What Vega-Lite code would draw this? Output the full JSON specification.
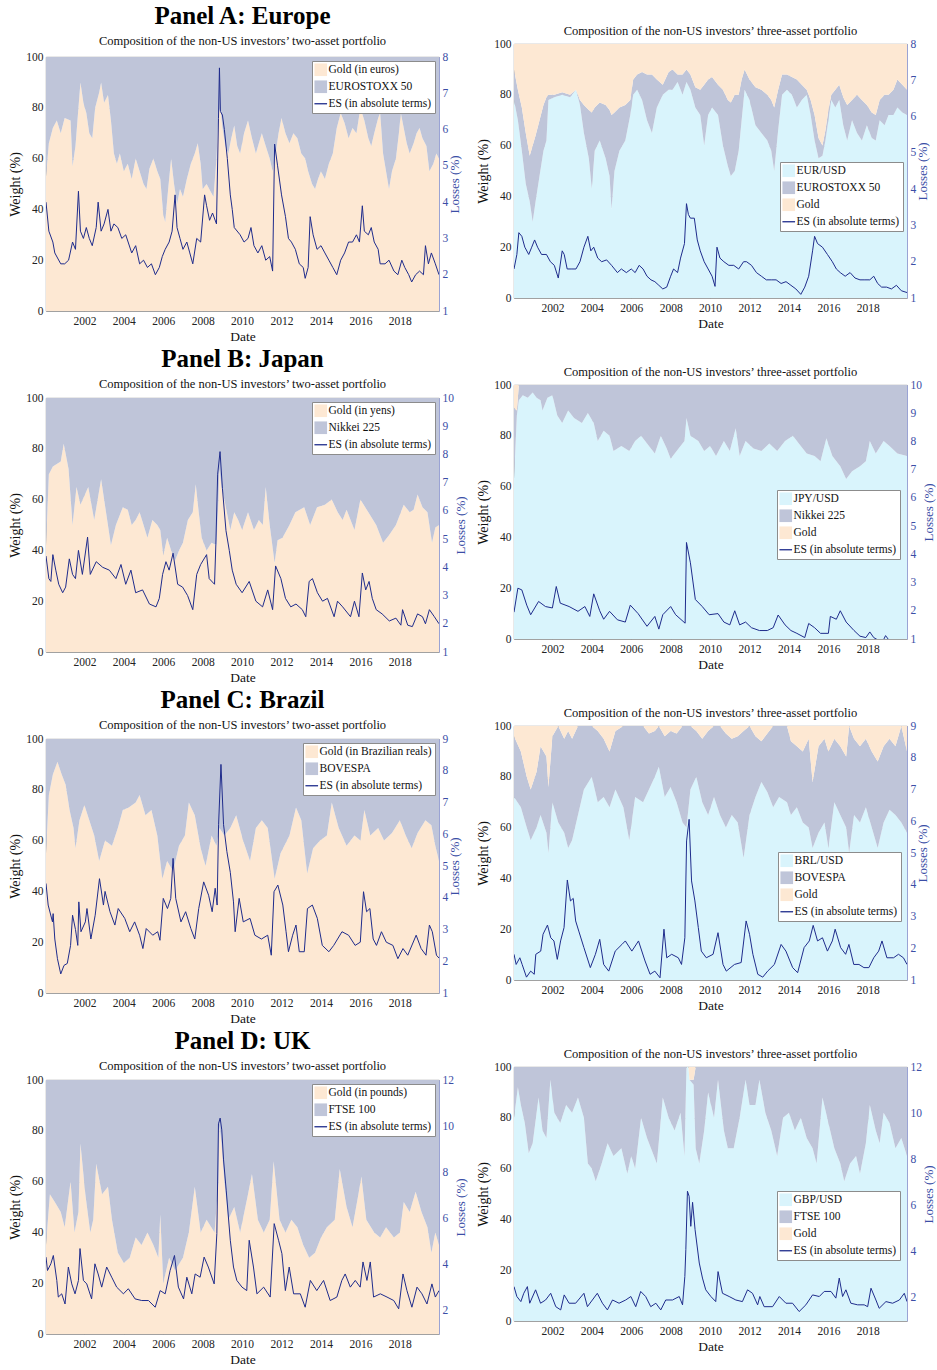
{
  "$schema": "https://vega.github.io/schema/vega-lite/v6.json",
  "background": "white",
  "padding": {"left": 8, "top": 4, "right": 0, "bottom": 2},
  "config": {
    "font": "Liberation Serif",
    "view": {"stroke": "#7a7a7a", "strokeWidth": 0.8},
    "title": {"font": "Liberation Serif", "fontSize": 25, "fontWeight": "bold", "color": "#000000", "subtitleFont": "Liberation Serif", "subtitleFontSize": 12.5, "subtitleColor": "#111111", "subtitlePadding": 6, "anchor": "middle", "offset": 2},
    "axis": {"labelFont": "Liberation Serif", "titleFont": "Liberation Serif", "labelFontSize": 11.5, "titleFontSize": 14, "titleFontWeight": "normal", "labelColor": "#222222", "titleColor": "#111111", "ticks": false, "domain": false, "grid": false, "gridColor": "#8c8c8c", "gridOpacity": 0.35, "gridWidth": 0.8, "labelPadding": 3, "titlePadding": 3, "labelFlush": false, "labelOverlap": false},
    "axisBottom": {"grid": true, "titlePadding": 3, "labelPadding": 4, "titleFontSize": 13.5},
    "axisLeft": {"grid": true},
    "axisRight": {"labelColor": "#3b4ea6", "titleColor": "#3b4ea6", "domain": true, "domainColor": "#9aa3d4", "grid": false, "titleAngle": 270, "titleBaseline": "top", "titlePadding": 1, "titleFontSize": 13},
    "legend": {"labelFont": "Liberation Serif", "labelFontSize": 11.5, "labelColor": "#111111", "fillColor": "#ffffff", "strokeColor": "#8c8c8c", "padding": 3, "symbolSize": 160, "symbolType": "square", "rowPadding": 3, "labelOffset": 2, "offset": 4}
  },
  "datasets": {
    "wA1": [
      {"d":"2000-01-21","a":53,"b":47},{"d":"2000-03-14","a":66,"b":34},{"d":"2000-05-27","a":72,"b":28},{"d":"2000-08-08","a":75,"b":25},{"d":"2000-10-20","a":70,"b":30},{"d":"2001-01-01","a":76,"b":24},{"d":"2001-04-20","a":75,"b":25},{"d":"2001-05-27","a":57,"b":43},{"d":"2001-07-20","a":65,"b":35},{"d":"2001-09-13","a":80,"b":20},{"d":"2001-10-20","a":90,"b":10},{"d":"2001-12-14","a":82,"b":18},
      {"d":"2002-02-06","a":78,"b":22},{"d":"2002-04-02","a":70,"b":30},{"d":"2002-05-27","a":68,"b":32},{"d":"2002-07-20","a":80,"b":20},{"d":"2002-10-02","a":86,"b":14},{"d":"2002-11-07","a":90,"b":10},{"d":"2003-01-01","a":82,"b":18},{"d":"2003-03-14","a":85,"b":15},{"d":"2003-05-08","a":75,"b":25},{"d":"2003-07-02","a":62,"b":38},{"d":"2003-08-26","a":58,"b":42},{"d":"2003-10-20","a":62,"b":38},
      {"d":"2004-01-01","a":55,"b":45},{"d":"2004-03-14","a":58,"b":42},{"d":"2004-05-27","a":52,"b":48},{"d":"2004-08-08","a":60,"b":40},{"d":"2004-10-20","a":55,"b":45},{"d":"2005-01-01","a":50,"b":50},{"d":"2005-02-24","a":48,"b":52},{"d":"2005-04-20","a":56,"b":44},{"d":"2005-07-02","a":60,"b":40},{"d":"2005-09-13","a":55,"b":45},{"d":"2005-11-07","a":52,"b":48},
      {"d":"2006-01-01","a":38,"b":62},{"d":"2006-02-06","a":35,"b":65},{"d":"2006-04-02","a":48,"b":52},{"d":"2006-05-27","a":60,"b":40},{"d":"2006-07-20","a":50,"b":50},{"d":"2006-09-13","a":42,"b":58},{"d":"2006-11-07","a":48,"b":52},{"d":"2007-01-01","a":45,"b":55},{"d":"2007-03-14","a":52,"b":48},{"d":"2007-05-27","a":58,"b":42},{"d":"2007-08-08","a":62,"b":38},{"d":"2007-10-02","a":66,"b":34},{"d":"2007-11-25","a":58,"b":42},
      {"d":"2008-01-01","a":48,"b":52},{"d":"2008-03-14","a":50,"b":50},{"d":"2008-05-27","a":47,"b":53},{"d":"2008-07-20","a":45,"b":55},{"d":"2008-09-13","a":60,"b":40},{"d":"2008-10-20","a":78,"b":22},{"d":"2008-11-25","a":80,"b":20},{"d":"2009-01-01","a":72,"b":28},{"d":"2009-02-24","a":65,"b":35},{"d":"2009-04-20","a":62,"b":38},{"d":"2009-06-14","a":68,"b":32},{"d":"2009-08-08","a":73,"b":27},{"d":"2009-10-02","a":65,"b":35},{"d":"2009-11-25","a":62,"b":38},
      {"d":"2010-02-06","a":70,"b":30},{"d":"2010-04-20","a":75,"b":25},{"d":"2010-07-02","a":68,"b":32},{"d":"2010-09-13","a":62,"b":38},{"d":"2010-11-07","a":66,"b":34},{"d":"2011-01-01","a":70,"b":30},{"d":"2011-03-14","a":65,"b":35},{"d":"2011-05-27","a":60,"b":40},{"d":"2011-07-20","a":55,"b":45},{"d":"2011-09-13","a":62,"b":38},{"d":"2011-11-07","a":70,"b":30},
      {"d":"2012-01-01","a":76,"b":24},{"d":"2012-03-14","a":70,"b":30},{"d":"2012-05-27","a":66,"b":34},{"d":"2012-08-08","a":70,"b":30},{"d":"2012-10-20","a":68,"b":32},{"d":"2013-01-01","a":62,"b":38},{"d":"2013-03-14","a":60,"b":40},{"d":"2013-05-08","a":55,"b":45},{"d":"2013-07-20","a":50,"b":50},{"d":"2013-09-13","a":48,"b":52},{"d":"2013-11-07","a":52,"b":48},
      {"d":"2014-01-01","a":55,"b":45},{"d":"2014-03-14","a":52,"b":48},{"d":"2014-05-27","a":58,"b":42},{"d":"2014-08-08","a":62,"b":38},{"d":"2014-10-20","a":72,"b":28},{"d":"2015-01-01","a":78,"b":22},{"d":"2015-03-14","a":74,"b":26},{"d":"2015-05-27","a":68,"b":32},{"d":"2015-08-08","a":72,"b":28},{"d":"2015-10-20","a":70,"b":30},
      {"d":"2016-01-01","a":80,"b":20},{"d":"2016-03-14","a":75,"b":25},{"d":"2016-05-27","a":68,"b":32},{"d":"2016-07-20","a":65,"b":35},{"d":"2016-09-13","a":70,"b":30},{"d":"2016-11-25","a":76,"b":24},{"d":"2017-01-01","a":78,"b":22},{"d":"2017-02-24","a":62,"b":38},{"d":"2017-04-20","a":55,"b":45},{"d":"2017-06-14","a":48,"b":52},{"d":"2017-08-08","a":55,"b":45},{"d":"2017-10-20","a":60,"b":40},{"d":"2017-12-14","a":70,"b":30},
      {"d":"2018-01-19","a":78,"b":22},{"d":"2018-03-14","a":72,"b":28},{"d":"2018-05-08","a":66,"b":34},{"d":"2018-07-02","a":62,"b":38},{"d":"2018-09-13","a":66,"b":34},{"d":"2018-11-07","a":70,"b":30},{"d":"2019-01-01","a":72,"b":28},{"d":"2019-02-24","a":68,"b":32},{"d":"2019-05-08","a":65,"b":35},{"d":"2019-07-02","a":55,"b":45},{"d":"2019-09-13","a":58,"b":42},{"d":"2019-11-07","a":62,"b":38},{"d":"2019-12-27","a":60,"b":40}
    ],
    "eA1": [
      {"d":"2000-01-21","e":4.0},{"d":"2000-03-14","e":3.2},{"d":"2000-05-27","e":2.9},{"d":"2000-07-02","e":2.6},{"d":"2000-10-20","e":2.3},{"d":"2001-01-01","e":2.3},{"d":"2001-03-14","e":2.4},{"d":"2001-05-27","e":2.9},{"d":"2001-07-20","e":2.7},{"d":"2001-09-13","e":4.3},{"d":"2001-10-20","e":3.2},{"d":"2001-12-14","e":3.0},
      {"d":"2002-02-06","e":3.3},{"d":"2002-04-02","e":3.0},{"d":"2002-05-27","e":2.8},{"d":"2002-08-08","e":3.3},{"d":"2002-09-13","e":4.0},{"d":"2002-11-07","e":3.2},{"d":"2003-01-01","e":3.4},{"d":"2003-03-14","e":3.8},{"d":"2003-05-08","e":3.2},{"d":"2003-07-02","e":3.4},{"d":"2003-09-13","e":3.3},{"d":"2003-11-25","e":3.0},
      {"d":"2004-02-06","e":3.1},{"d":"2004-05-27","e":2.6},{"d":"2004-08-08","e":2.8},{"d":"2004-10-20","e":2.3},{"d":"2005-01-01","e":2.4},{"d":"2005-03-14","e":2.2},{"d":"2005-05-27","e":2.3},{"d":"2005-08-08","e":2.0},{"d":"2005-10-20","e":2.2},{"d":"2005-12-14","e":2.5},
      {"d":"2006-02-06","e":2.7},{"d":"2006-04-20","e":2.9},{"d":"2006-06-14","e":3.2},{"d":"2006-08-08","e":4.2},{"d":"2006-09-13","e":3.3},{"d":"2006-11-07","e":3.0},{"d":"2007-01-01","e":2.7},{"d":"2007-03-14","e":2.9},{"d":"2007-05-08","e":2.6},{"d":"2007-07-02","e":2.3},{"d":"2007-09-13","e":3.0},{"d":"2007-11-25","e":2.9},
      {"d":"2008-02-06","e":4.2},{"d":"2008-03-14","e":3.9},{"d":"2008-05-08","e":3.5},{"d":"2008-07-02","e":3.7},{"d":"2008-09-13","e":3.4},{"d":"2008-10-20","e":6.3},{"d":"2008-11-07","e":7.7},{"d":"2008-11-25","e":6.5},{"d":"2009-01-01","e":6.4},{"d":"2009-02-06","e":6.0},{"d":"2009-04-02","e":5.2},{"d":"2009-05-27","e":4.2},{"d":"2009-07-02","e":3.8},{"d":"2009-08-08","e":3.3},{"d":"2009-11-25","e":3.1},
      {"d":"2010-02-06","e":2.9},{"d":"2010-04-20","e":3.0},{"d":"2010-06-14","e":3.3},{"d":"2010-08-08","e":2.8},{"d":"2010-10-20","e":2.6},{"d":"2011-01-01","e":2.8},{"d":"2011-03-14","e":2.4},{"d":"2011-05-27","e":2.5},{"d":"2011-07-20","e":2.1},{"d":"2011-08-26","e":5.6},{"d":"2011-10-20","e":5.0},
      {"d":"2012-01-01","e":4.2},{"d":"2012-03-14","e":3.6},{"d":"2012-05-08","e":3.0},{"d":"2012-07-02","e":2.9},{"d":"2012-09-13","e":2.7},{"d":"2012-11-25","e":2.3},{"d":"2013-02-06","e":2.2},{"d":"2013-03-14","e":1.9},{"d":"2013-05-08","e":2.2},{"d":"2013-06-14","e":3.6},{"d":"2013-08-08","e":3.1},{"d":"2013-10-20","e":2.7},
      {"d":"2014-01-01","e":2.8},{"d":"2014-03-14","e":2.6},{"d":"2014-05-27","e":2.4},{"d":"2014-08-08","e":2.2},{"d":"2014-10-20","e":2.0},{"d":"2015-01-01","e":2.4},{"d":"2015-03-14","e":2.6},{"d":"2015-05-27","e":2.9},{"d":"2015-08-08","e":2.9},{"d":"2015-10-20","e":3.1},{"d":"2015-12-14","e":2.9},
      {"d":"2016-02-06","e":3.9},{"d":"2016-03-14","e":3.2},{"d":"2016-05-27","e":3.1},{"d":"2016-07-20","e":3.3},{"d":"2016-09-13","e":2.9},{"d":"2016-11-25","e":2.7},{"d":"2017-01-01","e":2.3},{"d":"2017-04-02","e":2.3},{"d":"2017-06-14","e":2.4},{"d":"2017-09-13","e":2.1},{"d":"2017-11-25","e":2.0},
      {"d":"2018-02-06","e":2.4},{"d":"2018-04-02","e":2.2},{"d":"2018-06-14","e":2.0},{"d":"2018-08-08","e":1.8},{"d":"2018-10-20","e":2.0},{"d":"2019-01-01","e":2.1},{"d":"2019-03-14","e":2.0},{"d":"2019-04-20","e":2.8},{"d":"2019-06-14","e":2.3},{"d":"2019-08-08","e":2.6},{"d":"2019-10-20","e":2.3},{"d":"2019-12-27","e":2.0}
    ],
    "wA2": [
      {"d":"2000-01-21","a":78,"b":12,"c":10},{"d":"2000-04-02","a":70,"b":12,"c":18},{"d":"2000-06-14","a":58,"b":17,"c":25},{"d":"2000-08-26","a":45,"b":20,"c":35},{"d":"2000-11-07","a":38,"b":18,"c":44},{"d":"2001-01-01","a":30,"b":30,"c":40},{"d":"2001-02-24","a":38,"b":26,"c":36},{"d":"2001-05-08","a":48,"b":22,"c":30},{"d":"2001-07-20","a":58,"b":18,"c":24},{"d":"2001-09-13","a":62,"b":17,"c":21},{"d":"2001-10-20","a":78,"b":2,"c":20},
      {"d":"2002-02-06","a":79,"b":1,"c":20},{"d":"2002-07-02","a":80,"b":1,"c":19},{"d":"2002-11-25","a":79,"b":1,"c":20},{"d":"2003-03-14","a":82,"b":0,"c":18},{"d":"2003-05-27","a":76,"b":2,"c":22},{"d":"2003-08-08","a":65,"b":11,"c":24},{"d":"2003-11-07","a":55,"b":19,"c":26},
      {"d":"2004-01-01","a":43,"b":30,"c":27},{"d":"2004-02-24","a":58,"b":17,"c":25},{"d":"2004-05-27","a":62,"b":15,"c":23},{"d":"2004-09-13","a":55,"b":21,"c":24},{"d":"2004-11-25","a":48,"b":26,"c":26},{"d":"2005-01-01","a":35,"b":37,"c":28},{"d":"2005-02-24","a":50,"b":23,"c":27},{"d":"2005-05-27","a":58,"b":17,"c":25},{"d":"2005-09-13","a":62,"b":14,"c":24},{"d":"2005-12-14","a":72,"b":6,"c":22},
      {"d":"2006-02-06","a":80,"b":6,"c":14},{"d":"2006-04-20","a":82,"b":6,"c":12},{"d":"2006-07-20","a":78,"b":11,"c":11},{"d":"2006-10-20","a":70,"b":18,"c":12},{"d":"2007-01-19","a":65,"b":23,"c":12},{"d":"2007-04-20","a":75,"b":11,"c":14},{"d":"2007-08-08","a":80,"b":4,"c":16},{"d":"2007-11-25","a":82,"b":7,"c":11},
      {"d":"2008-02-06","a":82,"b":8,"c":10},{"d":"2008-05-08","a":85,"b":3,"c":12},{"d":"2008-08-08","a":80,"b":8,"c":12},{"d":"2008-10-20","a":85,"b":5,"c":10},{"d":"2009-01-01","a":82,"b":6,"c":12},{"d":"2009-04-02","a":75,"b":8,"c":17},{"d":"2009-07-02","a":72,"b":10,"c":18},{"d":"2009-09-13","a":60,"b":24,"c":16},{"d":"2009-11-25","a":72,"b":14,"c":14},
      {"d":"2010-02-06","a":75,"b":12,"c":13},{"d":"2010-05-27","a":72,"b":12,"c":16},{"d":"2010-08-26","a":60,"b":22,"c":18},{"d":"2010-11-25","a":52,"b":26,"c":22},{"d":"2011-01-19","a":48,"b":29,"c":23},{"d":"2011-04-02","a":50,"b":30,"c":20},{"d":"2011-06-14","a":58,"b":22,"c":20},{"d":"2011-08-08","a":70,"b":16,"c":14},{"d":"2011-10-02","a":82,"b":8,"c":10},
      {"d":"2012-01-01","a":78,"b":8,"c":14},{"d":"2012-04-20","a":68,"b":15,"c":17},{"d":"2012-08-08","a":65,"b":17,"c":18},{"d":"2012-11-25","a":62,"b":18,"c":20},{"d":"2013-02-06","a":58,"b":20,"c":22},{"d":"2013-04-02","a":50,"b":25,"c":25},{"d":"2013-06-14","a":66,"b":16,"c":18},{"d":"2013-08-26","a":80,"b":8,"c":12},{"d":"2013-11-25","a":82,"b":6,"c":12},
      {"d":"2014-02-24","a":80,"b":7,"c":13},{"d":"2014-05-27","a":75,"b":11,"c":14},{"d":"2014-08-26","a":78,"b":6,"c":16},{"d":"2014-11-25","a":80,"b":2,"c":18},{"d":"2015-02-06","a":72,"b":6,"c":22},{"d":"2015-04-20","a":62,"b":10,"c":28},{"d":"2015-07-02","a":55,"b":8,"c":37},{"d":"2015-09-13","a":56,"b":4,"c":40},{"d":"2015-11-07","a":62,"b":4,"c":34},
      {"d":"2016-01-01","a":70,"b":4,"c":26},{"d":"2016-02-24","a":78,"b":2,"c":20},{"d":"2016-05-08","a":75,"b":7,"c":18},{"d":"2016-07-20","a":78,"b":6,"c":16},{"d":"2016-10-02","a":68,"b":11,"c":21},{"d":"2016-12-14","a":62,"b":14,"c":24},{"d":"2017-03-14","a":70,"b":8,"c":22},{"d":"2017-06-14","a":65,"b":15,"c":20},{"d":"2017-09-13","a":62,"b":16,"c":22},{"d":"2017-12-14","a":68,"b":8,"c":24},
      {"d":"2018-03-14","a":63,"b":10,"c":27},{"d":"2018-05-27","a":62,"b":10,"c":28},{"d":"2018-08-08","a":70,"b":8,"c":22},{"d":"2018-11-07","a":68,"b":12,"c":20},{"d":"2019-01-19","a":72,"b":8,"c":20},{"d":"2019-04-20","a":72,"b":10,"c":18},{"d":"2019-07-02","a":75,"b":11,"c":14},{"d":"2019-10-02","a":73,"b":11,"c":16},{"d":"2019-12-27","a":72,"b":10,"c":18}
    ],
    "eA2": [
      {"d":"2000-01-21","e":1.8},{"d":"2000-03-14","e":2.2},{"d":"2000-04-20","e":2.8},{"d":"2000-06-14","e":2.7},{"d":"2000-08-08","e":2.4},{"d":"2000-10-20","e":2.2},{"d":"2000-12-14","e":2.4},{"d":"2001-02-06","e":2.6},{"d":"2001-04-02","e":2.4},{"d":"2001-06-14","e":2.2},{"d":"2001-09-13","e":2.2},{"d":"2001-11-25","e":2.0},
      {"d":"2002-02-06","e":1.9},{"d":"2002-04-20","e":1.55},{"d":"2002-07-02","e":2.3},{"d":"2002-08-08","e":2.2},{"d":"2002-10-02","e":1.8},{"d":"2002-12-14","e":1.8},{"d":"2003-03-14","e":1.8},{"d":"2003-05-27","e":2.0},{"d":"2003-08-08","e":2.4},{"d":"2003-10-20","e":2.7},{"d":"2003-12-14","e":2.3},
      {"d":"2004-02-06","e":2.4},{"d":"2004-04-20","e":2.1},{"d":"2004-07-02","e":2.0},{"d":"2004-10-02","e":2.05},{"d":"2005-01-01","e":1.9},{"d":"2005-04-20","e":1.7},{"d":"2005-07-02","e":1.8},{"d":"2005-10-02","e":1.7},{"d":"2006-01-01","e":1.8},{"d":"2006-03-14","e":1.7},{"d":"2006-05-27","e":1.9},{"d":"2006-08-08","e":1.8},{"d":"2006-10-20","e":1.6},
      {"d":"2007-01-01","e":1.5},{"d":"2007-03-14","e":1.45},{"d":"2007-05-27","e":1.35},{"d":"2007-08-08","e":1.25},{"d":"2007-10-20","e":1.3},{"d":"2008-01-01","e":1.6},{"d":"2008-02-24","e":1.8},{"d":"2008-05-08","e":1.7},{"d":"2008-07-02","e":2.1},{"d":"2008-09-13","e":2.5},{"d":"2008-10-20","e":3.6},{"d":"2008-11-25","e":3.3},{"d":"2009-01-01","e":3.2},{"d":"2009-03-14","e":3.2},{"d":"2009-05-08","e":2.6},{"d":"2009-07-02","e":2.3},{"d":"2009-09-13","e":2.0},{"d":"2009-11-25","e":1.8},
      {"d":"2010-02-06","e":1.6},{"d":"2010-04-02","e":1.32},{"d":"2010-05-08","e":2.4},{"d":"2010-07-02","e":2.1},{"d":"2010-09-13","e":2.0},{"d":"2010-12-14","e":1.9},{"d":"2011-03-14","e":1.9},{"d":"2011-06-14","e":1.8},{"d":"2011-09-13","e":2.0},{"d":"2011-11-07","e":2.0},
      {"d":"2012-02-06","e":1.9},{"d":"2012-05-08","e":1.7},{"d":"2012-08-08","e":1.6},{"d":"2012-11-07","e":1.5},{"d":"2013-02-06","e":1.5},{"d":"2013-05-08","e":1.5},{"d":"2013-08-08","e":1.4},{"d":"2013-11-07","e":1.45},{"d":"2014-02-06","e":1.35},{"d":"2014-05-08","e":1.25},{"d":"2014-08-08","e":1.1},{"d":"2014-10-20","e":1.3},
      {"d":"2015-01-01","e":1.6},{"d":"2015-03-14","e":2.3},{"d":"2015-04-20","e":2.7},{"d":"2015-06-14","e":2.5},{"d":"2015-09-13","e":2.4},{"d":"2015-12-14","e":2.2},{"d":"2016-03-14","e":2.0},{"d":"2016-05-27","e":1.8},{"d":"2016-08-08","e":1.7},{"d":"2016-11-07","e":1.6},
      {"d":"2017-02-06","e":1.7},{"d":"2017-05-08","e":1.55},{"d":"2017-08-08","e":1.5},{"d":"2017-11-07","e":1.5},{"d":"2018-02-06","e":1.5},{"d":"2018-04-20","e":1.6},{"d":"2018-07-02","e":1.4},{"d":"2018-09-13","e":1.3},{"d":"2018-12-14","e":1.3},{"d":"2019-03-14","e":1.25},{"d":"2019-06-14","e":1.35},{"d":"2019-09-13","e":1.2},{"d":"2019-12-27","e":1.15}
    ],
    "wB1": [
      {"d":"2000-01-21","a":42,"b":58},{"d":"2000-03-14","a":70,"b":30},{"d":"2000-05-27","a":73,"b":27},{"d":"2000-08-08","a":74,"b":26},{"d":"2000-10-20","a":75,"b":25},{"d":"2000-12-14","a":82,"b":18},{"d":"2001-03-14","a":72,"b":28},{"d":"2001-05-27","a":50,"b":50},{"d":"2001-08-08","a":65,"b":35},{"d":"2001-10-20","a":58,"b":42},
      {"d":"2002-03-14","a":65,"b":35},{"d":"2002-07-02","a":52,"b":48},{"d":"2002-11-07","a":68,"b":32},{"d":"2003-02-06","a":55,"b":45},{"d":"2003-05-08","a":42,"b":58},{"d":"2003-08-08","a":50,"b":50},{"d":"2003-12-14","a":57,"b":43},
      {"d":"2004-03-14","a":56,"b":44},{"d":"2004-05-27","a":50,"b":50},{"d":"2004-08-08","a":52,"b":48},{"d":"2004-10-20","a":55,"b":45},{"d":"2005-01-01","a":50,"b":50},{"d":"2005-03-14","a":45,"b":55},{"d":"2005-06-14","a":52,"b":48},{"d":"2005-09-13","a":50,"b":50},{"d":"2005-11-07","a":48,"b":52},
      {"d":"2006-01-01","a":38,"b":62},{"d":"2006-03-14","a":45,"b":55},{"d":"2006-05-27","a":40,"b":60},{"d":"2006-08-08","a":36,"b":64},{"d":"2006-10-20","a":40,"b":60},{"d":"2007-01-01","a":43,"b":57},{"d":"2007-04-02","a":52,"b":48},{"d":"2007-07-02","a":55,"b":45},{"d":"2007-08-26","a":66,"b":34},{"d":"2007-10-20","a":55,"b":45},{"d":"2007-12-14","a":45,"b":55},
      {"d":"2008-03-14","a":40,"b":60},{"d":"2008-06-14","a":43,"b":57},{"d":"2008-09-13","a":42,"b":58},{"d":"2008-10-20","a":60,"b":40},{"d":"2008-11-07","a":72,"b":28},{"d":"2008-12-14","a":65,"b":35},{"d":"2009-02-06","a":60,"b":40},{"d":"2009-05-27","a":48,"b":52},{"d":"2009-08-08","a":55,"b":45},{"d":"2009-10-20","a":52,"b":48},
      {"d":"2010-01-01","a":48,"b":52},{"d":"2010-04-20","a":55,"b":45},{"d":"2010-08-08","a":48,"b":52},{"d":"2010-11-07","a":52,"b":48},{"d":"2011-01-19","a":50,"b":50},{"d":"2011-03-14","a":65,"b":35},{"d":"2011-05-27","a":50,"b":50},{"d":"2011-08-26","a":35,"b":65},{"d":"2011-10-20","a":44,"b":56},
      {"d":"2012-01-19","a":45,"b":55},{"d":"2012-05-27","a":50,"b":50},{"d":"2012-09-13","a":55,"b":45},{"d":"2013-02-24","a":57,"b":43},{"d":"2013-06-14","a":50,"b":50},{"d":"2013-10-20","a":57,"b":43},{"d":"2014-03-14","a":58,"b":42},{"d":"2014-07-20","a":60,"b":40},{"d":"2014-11-07","a":55,"b":45},
      {"d":"2015-02-06","a":52,"b":48},{"d":"2015-04-20","a":56,"b":44},{"d":"2015-09-13","a":48,"b":52},{"d":"2016-01-01","a":60,"b":40},{"d":"2016-05-27","a":55,"b":45},{"d":"2016-10-20","a":50,"b":50},{"d":"2017-02-24","a":43,"b":57},{"d":"2017-06-14","a":46,"b":54},{"d":"2017-10-20","a":50,"b":50},
      {"d":"2018-03-14","a":58,"b":42},{"d":"2018-07-02","a":55,"b":45},{"d":"2018-09-13","a":56,"b":44},{"d":"2018-11-25","a":62,"b":38},{"d":"2019-02-24","a":57,"b":43},{"d":"2019-05-27","a":55,"b":45},{"d":"2019-08-20","a":43,"b":57},{"d":"2019-10-20","a":49,"b":51},{"d":"2019-12-27","a":50,"b":50}
    ],
    "eB1": [
      {"d":"2000-01-21","e":4.4},{"d":"2000-03-14","e":3.6},{"d":"2000-04-20","e":3.5},{"d":"2000-05-27","e":4.45},{"d":"2000-07-20","e":3.9},{"d":"2000-09-13","e":3.4},{"d":"2000-11-25","e":3.1},{"d":"2001-01-19","e":3.3},{"d":"2001-03-28","e":4.3},{"d":"2001-05-27","e":3.75},{"d":"2001-07-20","e":3.6},{"d":"2001-09-13","e":4.6},{"d":"2001-11-25","e":3.75},
      {"d":"2002-03-01","e":5.07},{"d":"2002-04-20","e":3.75},{"d":"2002-08-08","e":4.2},{"d":"2002-12-07","e":4.0},{"d":"2003-04-08","e":3.9},{"d":"2003-08-08","e":3.6},{"d":"2003-11-10","e":4.1},
      {"d":"2004-02-06","e":3.4},{"d":"2004-05-12","e":3.9},{"d":"2004-08-08","e":3.1},{"d":"2004-12-14","e":3.2},{"d":"2005-04-20","e":2.7},{"d":"2005-08-20","e":2.6},{"d":"2005-10-20","e":2.9},{"d":"2005-12-20","e":3.75},
      {"d":"2006-02-20","e":4.2},{"d":"2006-04-20","e":3.9},{"d":"2006-07-02","e":4.5},{"d":"2006-09-25","e":3.4},{"d":"2006-12-25","e":3.3},{"d":"2007-03-28","e":3.0},{"d":"2007-07-02","e":2.5},{"d":"2007-09-13","e":3.75},{"d":"2007-11-25","e":4.1},
      {"d":"2008-03-14","e":4.45},{"d":"2008-05-01","e":3.6},{"d":"2008-08-08","e":3.4},{"d":"2008-09-01","e":4.8},{"d":"2008-10-05","e":7.3},{"d":"2008-11-18","e":8.1},{"d":"2009-01-01","e":6.8},{"d":"2009-03-08","e":5.3},{"d":"2009-05-08","e":4.6},{"d":"2009-07-02","e":3.9},{"d":"2009-09-13","e":3.4},
      {"d":"2010-01-01","e":3.1},{"d":"2010-05-12","e":3.5},{"d":"2010-09-13","e":2.8},{"d":"2011-01-15","e":2.6},{"d":"2011-04-20","e":3.2},{"d":"2011-07-20","e":2.5},{"d":"2011-09-13","e":4.05},{"d":"2011-12-20","e":3.6},
      {"d":"2012-03-14","e":2.9},{"d":"2012-06-20","e":2.6},{"d":"2012-09-25","e":2.7},{"d":"2013-01-20","e":2.5},{"d":"2013-03-25","e":2.25},{"d":"2013-05-27","e":3.5},{"d":"2013-07-27","e":3.6},{"d":"2013-10-27","e":3.1},
      {"d":"2014-01-30","e":2.8},{"d":"2014-05-01","e":2.9},{"d":"2014-09-01","e":2.25},{"d":"2014-11-03","e":2.8},{"d":"2015-02-06","e":2.6},{"d":"2015-07-02","e":2.25},{"d":"2015-09-13","e":2.8},{"d":"2015-12-05","e":2.25},
      {"d":"2016-02-06","e":3.8},{"d":"2016-04-08","e":3.2},{"d":"2016-06-10","e":3.5},{"d":"2016-08-08","e":2.9},{"d":"2016-10-20","e":2.5},{"d":"2017-02-06","e":2.35},{"d":"2017-06-20","e":2.1},{"d":"2017-10-20","e":2.2},
      {"d":"2018-01-20","e":1.95},{"d":"2018-02-20","e":2.5},{"d":"2018-05-27","e":1.95},{"d":"2018-08-20","e":1.9},{"d":"2018-11-25","e":2.35},{"d":"2019-02-24","e":2.25},{"d":"2019-04-20","e":2.0},{"d":"2019-07-02","e":2.5},{"d":"2019-10-02","e":2.25},{"d":"2019-12-27","e":2.0}
    ],
    "wB2": [
      {"d":"2000-01-21","a":63,"b":28,"c":9},{"d":"2000-03-14","a":88,"b":2,"c":10},{"d":"2000-04-20","a":94,"b":6,"c":0},{"d":"2000-07-02","a":96,"b":4,"c":0},{"d":"2000-10-02","a":95,"b":5,"c":0},{"d":"2001-01-01","a":97,"b":3,"c":0},{"d":"2001-03-14","a":95,"b":5,"c":0},{"d":"2001-05-27","a":94,"b":6,"c":0},{"d":"2001-07-02","a":90,"b":10,"c":0},{"d":"2001-10-02","a":95,"b":5,"c":0},
      {"d":"2002-01-01","a":96,"b":4,"c":0},{"d":"2002-04-02","a":88,"b":12,"c":0},{"d":"2002-07-02","a":85,"b":15,"c":0},{"d":"2002-10-20","a":90,"b":10,"c":0},{"d":"2003-02-06","a":87,"b":13,"c":0},{"d":"2003-07-02","a":85,"b":15,"c":0},{"d":"2003-10-20","a":89,"b":11,"c":0},
      {"d":"2004-02-06","a":85,"b":15,"c":0},{"d":"2004-04-20","a":78,"b":22,"c":0},{"d":"2004-08-08","a":82,"b":18,"c":0},{"d":"2004-11-25","a":80,"b":20,"c":0},{"d":"2005-02-06","a":74,"b":26,"c":0},{"d":"2005-07-02","a":76,"b":24,"c":0},{"d":"2005-11-25","a":74,"b":26,"c":0},
      {"d":"2006-03-14","a":78,"b":22,"c":0},{"d":"2006-07-02","a":80,"b":20,"c":0},{"d":"2006-11-25","a":76,"b":24,"c":0},{"d":"2007-03-14","a":73,"b":27,"c":0},{"d":"2007-07-02","a":80,"b":20,"c":0},{"d":"2007-10-20","a":75,"b":25,"c":0},
      {"d":"2008-01-01","a":71,"b":29,"c":0},{"d":"2008-05-27","a":75,"b":25,"c":0},{"d":"2008-09-13","a":78,"b":22,"c":0},{"d":"2008-10-20","a":87,"b":13,"c":0},{"d":"2009-01-01","a":80,"b":20,"c":0},{"d":"2009-05-27","a":78,"b":22,"c":0},{"d":"2009-09-13","a":74,"b":26,"c":0},
      {"d":"2010-01-01","a":76,"b":24,"c":0},{"d":"2010-04-20","a":72,"b":28,"c":0},{"d":"2010-09-13","a":78,"b":22,"c":0},{"d":"2011-01-01","a":74,"b":26,"c":0},{"d":"2011-04-20","a":83,"b":17,"c":0},{"d":"2011-07-02","a":72,"b":28,"c":0},{"d":"2011-10-20","a":78,"b":22,"c":0},
      {"d":"2012-03-14","a":75,"b":25,"c":0},{"d":"2012-08-08","a":74,"b":26,"c":0},{"d":"2013-01-01","a":77,"b":23,"c":0},{"d":"2013-05-27","a":74,"b":26,"c":0},{"d":"2013-10-20","a":78,"b":22,"c":0},{"d":"2014-03-14","a":80,"b":20,"c":0},{"d":"2014-07-02","a":77,"b":23,"c":0},{"d":"2014-11-25","a":73,"b":27,"c":0},
      {"d":"2015-04-20","a":72,"b":28,"c":0},{"d":"2015-08-08","a":70,"b":30,"c":0},{"d":"2015-11-25","a":79,"b":21,"c":0},{"d":"2016-03-14","a":72,"b":28,"c":0},{"d":"2016-08-08","a":68,"b":32,"c":0},{"d":"2016-11-25","a":63,"b":37,"c":0},{"d":"2017-03-14","a":66,"b":34,"c":0},{"d":"2017-08-08","a":68,"b":32,"c":0},{"d":"2017-11-25","a":70,"b":30,"c":0},
      {"d":"2018-02-06","a":78,"b":22,"c":0},{"d":"2018-05-27","a":73,"b":27,"c":0},{"d":"2018-10-20","a":78,"b":22,"c":0},{"d":"2019-02-06","a":76,"b":24,"c":0},{"d":"2019-07-02","a":73,"b":27,"c":0},{"d":"2019-12-27","a":72,"b":28,"c":0}
    ],
    "eB2": [
      {"d":"2000-01-21","e":1.95},{"d":"2000-04-02","e":2.8},{"d":"2000-06-14","e":2.74},{"d":"2000-09-13","e":2.2},{"d":"2000-11-25","e":1.86},{"d":"2001-04-20","e":2.33},{"d":"2001-08-26","e":2.15},{"d":"2002-01-01","e":2.1},{"d":"2002-03-14","e":2.86},{"d":"2002-05-27","e":2.27},{"d":"2002-11-07","e":2.15},
      {"d":"2003-04-20","e":1.98},{"d":"2003-08-26","e":2.15},{"d":"2003-11-25","e":1.8},{"d":"2004-02-06","e":2.6},{"d":"2004-05-27","e":2.0},{"d":"2004-08-08","e":1.7},{"d":"2004-11-25","e":1.98},{"d":"2005-04-20","e":1.68},{"d":"2005-09-13","e":1.6},{"d":"2005-12-14","e":2.2},
      {"d":"2006-05-08","e":1.9},{"d":"2006-10-20","e":1.45},{"d":"2007-03-14","e":1.8},{"d":"2007-05-27","e":1.35},{"d":"2007-08-08","e":1.86},{"d":"2008-01-01","e":2.15},{"d":"2008-04-02","e":1.86},{"d":"2008-09-25","e":1.56},{"d":"2008-10-20","e":4.42},{"d":"2009-01-01","e":3.7},{"d":"2009-04-02","e":2.4},{"d":"2009-08-08","e":2.15},{"d":"2009-12-14","e":1.86},
      {"d":"2010-05-27","e":1.9},{"d":"2010-09-13","e":1.6},{"d":"2011-01-01","e":1.5},{"d":"2011-04-02","e":2.0},{"d":"2011-07-02","e":1.5},{"d":"2011-10-20","e":1.6},{"d":"2012-02-06","e":1.4},{"d":"2012-07-02","e":1.3},{"d":"2012-11-25","e":1.3},
      {"d":"2013-03-14","e":1.4},{"d":"2013-06-14","e":1.85},{"d":"2013-10-20","e":1.5},{"d":"2014-02-06","e":1.3},{"d":"2014-05-27","e":1.2},{"d":"2014-10-20","e":1.05},{"d":"2015-01-01","e":1.55},{"d":"2015-04-20","e":1.4},{"d":"2015-08-08","e":1.2},
      {"d":"2016-01-01","e":1.2},{"d":"2016-02-06","e":1.8},{"d":"2016-05-27","e":1.7},{"d":"2016-08-08","e":2.0},{"d":"2016-11-25","e":1.6},{"d":"2017-04-20","e":1.3},{"d":"2017-08-08","e":1.1},{"d":"2017-11-25","e":1.05},
      {"d":"2018-02-06","e":1.25},{"d":"2018-04-20","e":1.05},{"d":"2018-07-02","e":0.97},{"d":"2018-10-20","e":0.98},{"d":"2018-11-25","e":1.12},{"d":"2019-01-19","e":0.98},{"d":"2019-03-14","e":0.9},{"d":"2019-08-08","e":0.85},{"d":"2019-12-27","e":0.85}
    ],
    "wC1": [
      {"d":"2000-01-21","a":55,"b":45},{"d":"2000-03-14","a":78,"b":22},{"d":"2000-05-27","a":86,"b":14},{"d":"2000-08-20","a":91,"b":9},{"d":"2000-11-07","a":86,"b":14},{"d":"2001-01-19","a":82,"b":18},{"d":"2001-04-02","a":72,"b":28},{"d":"2001-06-14","a":65,"b":35},{"d":"2001-07-20","a":57,"b":43},{"d":"2001-10-02","a":68,"b":32},
      {"d":"2002-01-01","a":74,"b":26},{"d":"2002-04-02","a":68,"b":32},{"d":"2002-07-02","a":62,"b":38},{"d":"2002-10-02","a":52,"b":48},{"d":"2003-01-19","a":60,"b":40},{"d":"2003-05-27","a":58,"b":42},{"d":"2003-09-13","a":65,"b":35},{"d":"2003-12-14","a":72,"b":28},
      {"d":"2004-04-02","a":73,"b":27},{"d":"2004-08-08","a":75,"b":25},{"d":"2004-10-20","a":78,"b":22},{"d":"2005-02-06","a":70,"b":30},{"d":"2005-05-27","a":72,"b":28},{"d":"2005-09-13","a":62,"b":38},{"d":"2005-12-14","a":45,"b":55},
      {"d":"2006-03-14","a":52,"b":48},{"d":"2006-07-02","a":48,"b":52},{"d":"2006-10-20","a":58,"b":42},{"d":"2007-02-06","a":62,"b":38},{"d":"2007-04-20","a":75,"b":25},{"d":"2007-08-08","a":70,"b":30},{"d":"2007-11-25","a":57,"b":43},
      {"d":"2008-02-24","a":50,"b":50},{"d":"2008-06-14","a":62,"b":38},{"d":"2008-09-13","a":58,"b":42},{"d":"2008-11-07","a":65,"b":35},{"d":"2009-02-06","a":62,"b":38},{"d":"2009-05-27","a":65,"b":35},{"d":"2009-09-13","a":70,"b":30},
      {"d":"2010-01-19","a":60,"b":40},{"d":"2010-05-27","a":52,"b":48},{"d":"2010-09-13","a":65,"b":35},{"d":"2011-01-01","a":68,"b":32},{"d":"2011-04-20","a":65,"b":35},{"d":"2011-08-26","a":45,"b":55},{"d":"2011-12-14","a":55,"b":45},
      {"d":"2012-05-27","a":62,"b":38},{"d":"2012-09-25","a":73,"b":27},{"d":"2013-01-01","a":68,"b":32},{"d":"2013-04-20","a":47,"b":53},{"d":"2013-08-08","a":57,"b":43},{"d":"2013-12-14","a":60,"b":40},
      {"d":"2014-04-20","a":62,"b":38},{"d":"2014-07-20","a":75,"b":25},{"d":"2014-11-25","a":65,"b":35},{"d":"2015-04-20","a":58,"b":42},{"d":"2015-09-13","a":62,"b":38},{"d":"2016-01-01","a":60,"b":40},{"d":"2016-03-14","a":72,"b":28},{"d":"2016-07-02","a":62,"b":38},{"d":"2016-11-25","a":65,"b":35},
      {"d":"2017-03-14","a":60,"b":40},{"d":"2017-08-08","a":63,"b":37},{"d":"2018-01-01","a":68,"b":32},{"d":"2018-04-20","a":62,"b":38},{"d":"2018-08-08","a":57,"b":43},{"d":"2018-11-25","a":63,"b":37},{"d":"2019-04-20","a":68,"b":32},{"d":"2019-08-08","a":66,"b":34},{"d":"2019-10-20","a":58,"b":42},{"d":"2019-12-27","a":52,"b":48}
    ],
    "eC1": [
      {"d":"2000-01-21","e":4.45},{"d":"2000-03-01","e":3.77},{"d":"2000-05-20","e":3.24},{"d":"2000-06-01","e":3.5},{"d":"2000-07-02","e":2.7},{"d":"2000-08-20","e":2.08},{"d":"2000-10-20","e":1.6},{"d":"2000-12-20","e":1.87},{"d":"2001-02-18","e":1.93},{"d":"2001-04-20","e":2.5},{"d":"2001-05-27","e":3.45},{"d":"2001-07-20","e":3.0},{"d":"2001-09-01","e":2.5},{"d":"2001-09-20","e":3.87},{"d":"2001-10-30","e":2.93},
      {"d":"2002-01-19","e":3.24},{"d":"2002-02-18","e":3.66},{"d":"2002-05-01","e":2.7},{"d":"2002-07-20","e":3.45},{"d":"2002-10-08","e":4.6},{"d":"2002-12-20","e":3.77},{"d":"2003-01-19","e":4.2},{"d":"2003-04-20","e":3.56},{"d":"2003-07-20","e":3.14},{"d":"2003-09-20","e":3.66},
      {"d":"2004-01-19","e":3.35},{"d":"2004-04-20","e":2.93},{"d":"2004-07-20","e":3.24},{"d":"2004-10-20","e":2.82},{"d":"2004-12-20","e":2.4},{"d":"2005-02-20","e":3.03},{"d":"2005-06-20","e":2.82},{"d":"2005-09-20","e":2.93},{"d":"2005-11-01","e":2.66},
      {"d":"2006-01-01","e":3.98},{"d":"2006-03-20","e":3.66},{"d":"2006-05-20","e":3.98},{"d":"2006-07-02","e":5.24},{"d":"2006-08-20","e":3.98},{"d":"2006-11-25","e":3.24},{"d":"2007-02-20","e":3.56},{"d":"2007-05-27","e":3.03},{"d":"2007-08-08","e":2.7},{"d":"2007-10-20","e":3.66},
      {"d":"2008-01-20","e":4.5},{"d":"2008-04-20","e":4.08},{"d":"2008-06-25","e":3.56},{"d":"2008-08-20","e":4.3},{"d":"2008-09-25","e":3.77},{"d":"2008-10-22","e":6.3},{"d":"2008-12-05","e":8.2},{"d":"2009-01-22","e":6.3},{"d":"2009-03-25","e":5.45},{"d":"2009-05-27","e":4.8},{"d":"2009-07-25","e":3.87},{"d":"2009-08-25","e":2.93},{"d":"2009-11-07","e":3.98},
      {"d":"2010-01-22","e":3.24},{"d":"2010-05-27","e":3.35},{"d":"2010-08-25","e":2.82},{"d":"2010-12-25","e":2.7},{"d":"2011-04-20","e":2.82},{"d":"2011-06-25","e":2.19},{"d":"2011-08-15","e":4.19},{"d":"2011-10-25","e":4.4},
      {"d":"2012-01-25","e":3.77},{"d":"2012-03-25","e":2.93},{"d":"2012-05-08","e":2.3},{"d":"2012-07-25","e":2.82},{"d":"2012-09-25","e":3.14},{"d":"2012-11-25","e":2.3},{"d":"2013-02-25","e":2.3},{"d":"2013-04-25","e":3.66},{"d":"2013-07-25","e":3.77},{"d":"2013-10-25","e":3.35},
      {"d":"2014-01-25","e":2.5},{"d":"2014-05-27","e":2.3},{"d":"2014-08-25","e":2.5},{"d":"2015-01-25","e":2.93},{"d":"2015-05-27","e":2.82},{"d":"2015-09-25","e":2.5},{"d":"2015-12-30","e":2.6},
      {"d":"2016-02-28","e":4.19},{"d":"2016-04-25","e":3.56},{"d":"2016-06-25","e":3.66},{"d":"2016-08-25","e":2.7},{"d":"2016-10-25","e":2.5},{"d":"2017-01-25","e":2.93},{"d":"2017-04-25","e":2.6},{"d":"2017-08-25","e":2.5},{"d":"2017-11-25","e":2.08},
      {"d":"2018-02-28","e":2.4},{"d":"2018-05-27","e":2.19},{"d":"2018-10-30","e":2.82},{"d":"2019-01-30","e":2.4},{"d":"2019-04-30","e":2.19},{"d":"2019-07-02","e":3.14},{"d":"2019-08-25","e":2.93},{"d":"2019-11-10","e":2.19},{"d":"2019-12-27","e":2.1}
    ],
    "wC2": [
      {"d":"2000-01-21","a":72,"b":24,"c":4},{"d":"2000-05-27","a":68,"b":22,"c":10},{"d":"2000-09-13","a":60,"b":20,"c":20},{"d":"2000-11-25","a":55,"b":20,"c":25},{"d":"2001-03-14","a":60,"b":22,"c":18},{"d":"2001-05-27","a":65,"b":27,"c":8},{"d":"2001-09-13","a":58,"b":30,"c":12},{"d":"2001-10-20","a":50,"b":26,"c":24},
      {"d":"2002-01-01","a":70,"b":26,"c":4},{"d":"2002-04-20","a":62,"b":38,"c":0},{"d":"2002-08-08","a":58,"b":37,"c":5},{"d":"2002-10-20","a":52,"b":46,"c":2},{"d":"2003-01-01","a":55,"b":40,"c":5},{"d":"2003-04-20","a":65,"b":35,"c":0},{"d":"2003-08-08","a":75,"b":25,"c":0},
      {"d":"2004-01-01","a":80,"b":20,"c":0},{"d":"2004-04-20","a":70,"b":28,"c":2},{"d":"2004-08-08","a":72,"b":23,"c":5},{"d":"2004-11-25","a":68,"b":22,"c":10},{"d":"2005-03-14","a":75,"b":23,"c":2},{"d":"2005-08-08","a":68,"b":32,"c":0},{"d":"2005-11-25","a":55,"b":45,"c":0},
      {"d":"2006-03-14","a":72,"b":28,"c":0},{"d":"2006-08-08","a":70,"b":30,"c":0},{"d":"2006-11-25","a":75,"b":22,"c":3},{"d":"2007-03-14","a":80,"b":18,"c":2},{"d":"2007-05-27","a":84,"b":16,"c":0},{"d":"2007-09-13","a":72,"b":24,"c":4},
      {"d":"2008-01-01","a":76,"b":22,"c":2},{"d":"2008-04-20","a":70,"b":27,"c":3},{"d":"2008-08-08","a":62,"b":38,"c":0},{"d":"2008-10-20","a":60,"b":40,"c":0},{"d":"2009-01-01","a":75,"b":25,"c":0},{"d":"2009-04-20","a":80,"b":18,"c":2},{"d":"2009-08-08","a":70,"b":25,"c":5},{"d":"2009-11-25","a":65,"b":33,"c":2},
      {"d":"2010-03-14","a":72,"b":28,"c":0},{"d":"2010-07-02","a":65,"b":35,"c":0},{"d":"2010-10-20","a":60,"b":37,"c":3},{"d":"2011-02-06","a":65,"b":30,"c":5},{"d":"2011-05-27","a":62,"b":34,"c":4},{"d":"2011-09-13","a":48,"b":50,"c":2},
      {"d":"2012-01-01","a":65,"b":35,"c":0},{"d":"2012-04-20","a":72,"b":24,"c":4},{"d":"2012-08-08","a":78,"b":16,"c":6},{"d":"2012-11-25","a":74,"b":23,"c":3},{"d":"2013-03-14","a":68,"b":32,"c":0},{"d":"2013-07-02","a":72,"b":28,"c":0},{"d":"2013-11-25","a":70,"b":30,"c":0},
      {"d":"2014-02-06","a":65,"b":29,"c":6},{"d":"2014-05-27","a":68,"b":24,"c":8},{"d":"2014-09-13","a":62,"b":28,"c":10},{"d":"2015-01-01","a":60,"b":35,"c":5},{"d":"2015-03-14","a":52,"b":26,"c":22},{"d":"2015-07-02","a":58,"b":34,"c":8},{"d":"2015-10-20","a":62,"b":33,"c":5},
      {"d":"2016-01-01","a":52,"b":38,"c":10},{"d":"2016-04-20","a":70,"b":25,"c":5},{"d":"2016-08-08","a":65,"b":27,"c":8},{"d":"2016-11-25","a":60,"b":28,"c":12},{"d":"2017-01-19","a":50,"b":50,"c":0},{"d":"2017-04-20","a":65,"b":30,"c":5},{"d":"2017-08-08","a":62,"b":30,"c":8},{"d":"2017-11-25","a":68,"b":27,"c":5},
      {"d":"2018-03-14","a":60,"b":30,"c":10},{"d":"2018-07-02","a":52,"b":34,"c":14},{"d":"2018-10-20","a":62,"b":30,"c":8},{"d":"2019-02-06","a":67,"b":28,"c":5},{"d":"2019-05-27","a":65,"b":27,"c":8},{"d":"2019-09-13","a":62,"b":38,"c":0},{"d":"2019-12-27","a":58,"b":32,"c":10}
    ],
    "eC2": [
      {"d":"2000-01-21","e":1.81},{"d":"2000-03-01","e":1.49},{"d":"2000-05-08","e":1.7},{"d":"2000-06-20","e":1.49},{"d":"2000-09-08","e":1.09},{"d":"2000-11-25","e":1.28},{"d":"2001-01-30","e":1.18},{"d":"2001-02-28","e":1.81},{"d":"2001-05-30","e":1.91},{"d":"2001-07-12","e":2.44},{"d":"2001-10-02","e":2.73},{"d":"2001-12-02","e":2.33},
      {"d":"2002-01-30","e":2.23},{"d":"2002-04-02","e":1.65},{"d":"2002-06-02","e":2.23},{"d":"2002-08-05","e":2.65},{"d":"2002-10-05","e":4.15},{"d":"2002-12-02","e":3.49},{"d":"2003-01-22","e":3.57},{"d":"2003-03-08","e":2.86},{"d":"2003-05-05","e":2.54},{"d":"2003-08-08","e":2.02},{"d":"2003-12-05","e":1.39},
      {"d":"2004-03-08","e":1.81},{"d":"2004-05-27","e":2.28},{"d":"2004-08-08","e":1.49},{"d":"2004-11-10","e":1.28},{"d":"2005-03-10","e":1.91},{"d":"2005-07-12","e":2.12},{"d":"2005-09-13","e":2.23},{"d":"2006-01-12","e":1.91},{"d":"2006-05-15","e":2.23},{"d":"2006-09-13","e":1.6},{"d":"2006-12-16","e":1.18},
      {"d":"2007-03-14","e":1.28},{"d":"2007-06-18","e":1.07},{"d":"2007-08-30","e":2.6},{"d":"2007-10-20","e":1.7},{"d":"2008-01-20","e":1.81},{"d":"2008-05-22","e":1.7},{"d":"2008-07-20","e":1.49},{"d":"2008-09-20","e":2.33},{"d":"2008-10-22","e":5.38},{"d":"2008-12-08","e":6.06},{"d":"2009-01-22","e":4.12},{"d":"2009-03-25","e":3.49},{"d":"2009-05-27","e":2.65},{"d":"2009-07-22","e":1.91},{"d":"2009-10-22","e":1.7},
      {"d":"2010-02-25","e":1.81},{"d":"2010-05-27","e":2.49},{"d":"2010-08-28","e":1.49},{"d":"2010-10-28","e":1.28},{"d":"2011-03-28","e":1.49},{"d":"2011-07-30","e":1.55},{"d":"2011-10-30","e":2.86},
      {"d":"2012-01-01","e":2.44},{"d":"2012-03-03","e":1.81},{"d":"2012-06-02","e":1.18},{"d":"2012-09-02","e":1.09},{"d":"2012-12-02","e":1.28},{"d":"2013-04-05","e":1.49},{"d":"2013-08-08","e":2.12},{"d":"2013-11-05","e":1.91},
      {"d":"2014-03-10","e":1.39},{"d":"2014-06-10","e":1.23},{"d":"2014-10-08","e":2.02},{"d":"2015-01-12","e":2.23},{"d":"2015-03-25","e":2.72},{"d":"2015-06-14","e":2.23},{"d":"2015-09-13","e":2.33},{"d":"2015-12-14","e":1.91},
      {"d":"2016-03-14","e":2.23},{"d":"2016-05-05","e":2.6},{"d":"2016-08-15","e":2.02},{"d":"2016-11-15","e":1.81},{"d":"2017-01-15","e":2.12},{"d":"2017-04-15","e":1.49},{"d":"2017-07-20","e":1.49},{"d":"2017-10-20","e":1.39},
      {"d":"2018-01-20","e":1.39},{"d":"2018-04-20","e":1.7},{"d":"2018-07-20","e":1.91},{"d":"2018-09-20","e":2.23},{"d":"2018-12-20","e":1.7},{"d":"2019-04-22","e":1.7},{"d":"2019-07-22","e":1.81},{"d":"2019-10-22","e":1.7},{"d":"2019-12-27","e":1.49}
    ],
    "wD1": [
      {"d":"2000-01-21","a":35,"b":65},{"d":"2000-04-02","a":55,"b":45},{"d":"2000-07-02","a":52,"b":48},{"d":"2000-10-20","a":48,"b":52},{"d":"2001-01-01","a":42,"b":58},{"d":"2001-04-20","a":60,"b":40},{"d":"2001-07-02","a":40,"b":60},{"d":"2001-09-13","a":48,"b":52},{"d":"2001-10-20","a":75,"b":25},
      {"d":"2002-01-19","a":55,"b":45},{"d":"2002-04-20","a":40,"b":60},{"d":"2002-06-14","a":45,"b":55},{"d":"2002-08-08","a":67,"b":33},{"d":"2002-11-25","a":55,"b":45},{"d":"2003-03-14","a":58,"b":42},{"d":"2003-05-27","a":45,"b":55},{"d":"2003-09-13","a":32,"b":68},
      {"d":"2004-01-01","a":28,"b":72},{"d":"2004-04-20","a":30,"b":70},{"d":"2004-08-08","a":38,"b":62},{"d":"2004-11-25","a":35,"b":65},{"d":"2005-03-14","a":40,"b":60},{"d":"2005-07-02","a":35,"b":65},{"d":"2005-10-02","a":30,"b":70},{"d":"2005-11-07","a":47,"b":53},
      {"d":"2006-01-01","a":20,"b":80},{"d":"2006-04-20","a":30,"b":70},{"d":"2006-08-08","a":25,"b":75},{"d":"2007-01-01","a":30,"b":70},{"d":"2007-04-20","a":40,"b":60},{"d":"2007-08-08","a":58,"b":42},{"d":"2007-11-25","a":40,"b":60},
      {"d":"2008-03-14","a":45,"b":55},{"d":"2008-08-08","a":40,"b":60},{"d":"2008-10-20","a":60,"b":40},{"d":"2008-11-07","a":82,"b":18},{"d":"2008-12-14","a":75,"b":25},{"d":"2009-02-06","a":60,"b":40},{"d":"2009-04-20","a":45,"b":55},{"d":"2009-08-08","a":50,"b":50},{"d":"2009-11-25","a":40,"b":60},
      {"d":"2010-04-20","a":55,"b":45},{"d":"2010-07-02","a":63,"b":37},{"d":"2010-10-20","a":45,"b":55},{"d":"2011-02-06","a":40,"b":60},{"d":"2011-05-27","a":45,"b":55},{"d":"2011-08-08","a":68,"b":32},{"d":"2011-11-25","a":45,"b":55},
      {"d":"2012-03-14","a":40,"b":60},{"d":"2012-07-02","a":45,"b":55},{"d":"2012-10-20","a":42,"b":58},{"d":"2013-02-06","a":35,"b":65},{"d":"2013-05-27","a":30,"b":70},{"d":"2013-09-13","a":32,"b":68},
      {"d":"2014-01-01","a":38,"b":62},{"d":"2014-04-20","a":42,"b":58},{"d":"2014-09-13","a":45,"b":55},{"d":"2014-12-14","a":65,"b":35},{"d":"2015-04-20","a":50,"b":50},{"d":"2015-08-08","a":42,"b":58},{"d":"2015-11-25","a":55,"b":45},
      {"d":"2016-01-19","a":62,"b":38},{"d":"2016-04-20","a":45,"b":55},{"d":"2016-09-13","a":40,"b":60},{"d":"2017-01-01","a":38,"b":62},{"d":"2017-04-20","a":42,"b":58},{"d":"2017-09-13","a":38,"b":62},
      {"d":"2018-01-01","a":40,"b":60},{"d":"2018-03-14","a":52,"b":48},{"d":"2018-07-02","a":48,"b":52},{"d":"2018-10-20","a":56,"b":44},{"d":"2019-02-06","a":48,"b":52},{"d":"2019-05-27","a":42,"b":58},{"d":"2019-08-08","a":32,"b":68},{"d":"2019-10-20","a":40,"b":60},{"d":"2019-12-27","a":35,"b":65}
    ],
    "eD1": [
      {"d":"2000-01-21","e":4.33},{"d":"2000-02-18","e":3.75},{"d":"2000-04-20","e":4.04},{"d":"2000-06-05","e":4.4},{"d":"2000-08-08","e":3.32},{"d":"2000-09-05","e":2.6},{"d":"2000-11-07","e":2.74},{"d":"2001-01-08","e":2.3},{"d":"2001-03-10","e":3.9},{"d":"2001-05-12","e":3.17},{"d":"2001-07-12","e":2.74},{"d":"2001-09-13","e":3.32},{"d":"2001-10-12","e":4.7},{"d":"2001-12-14","e":3.32},
      {"d":"2002-02-14","e":3.17},{"d":"2002-05-15","e":2.52},{"d":"2002-07-15","e":4.04},{"d":"2002-09-13","e":3.6},{"d":"2002-11-18","e":3.03},{"d":"2003-02-18","e":3.9},{"d":"2003-05-22","e":3.46},{"d":"2003-08-22","e":3.03},{"d":"2003-12-25","e":2.74},
      {"d":"2004-03-25","e":2.96},{"d":"2004-07-28","e":2.52},{"d":"2004-11-28","e":2.45},{"d":"2005-04-02","e":2.45},{"d":"2005-08-05","e":2.16},{"d":"2005-11-05","e":2.88},
      {"d":"2006-02-06","e":2.74},{"d":"2006-05-08","e":3.75},{"d":"2006-07-28","e":4.4},{"d":"2006-10-08","e":3.03},{"d":"2007-01-12","e":2.52},{"d":"2007-03-14","e":3.46},{"d":"2007-06-14","e":2.74},{"d":"2007-08-15","e":3.6},{"d":"2007-11-15","e":3.46},
      {"d":"2008-01-28","e":4.33},{"d":"2008-04-15","e":3.9},{"d":"2008-08-01","e":3.17},{"d":"2008-09-20","e":5.35},{"d":"2008-10-20","e":10.1},{"d":"2008-11-20","e":10.35},{"d":"2008-12-20","e":9.84},{"d":"2009-01-22","e":8.54},{"d":"2009-03-12","e":7.23},{"d":"2009-05-27","e":5.06},{"d":"2009-07-25","e":3.9},{"d":"2009-09-25","e":3.32},{"d":"2009-12-30","e":3.03},
      {"d":"2010-03-28","e":2.88},{"d":"2010-05-12","e":5.06},{"d":"2010-07-30","e":3.9},{"d":"2010-10-02","e":2.74},{"d":"2011-02-04","e":3.03},{"d":"2011-06-05","e":2.6},{"d":"2011-08-18","e":5.78},{"d":"2011-11-07","e":5.06},
      {"d":"2012-01-08","e":4.48},{"d":"2012-03-12","e":2.88},{"d":"2012-05-22","e":3.9},{"d":"2012-08-12","e":2.74},{"d":"2012-12-14","e":2.74},{"d":"2013-03-14","e":2.16},{"d":"2013-06-18","e":3.32},{"d":"2013-10-15","e":2.88},
      {"d":"2014-02-18","e":3.32},{"d":"2014-06-20","e":2.45},{"d":"2014-10-22","e":2.6},{"d":"2015-01-22","e":3.32},{"d":"2015-03-25","e":3.6},{"d":"2015-06-28","e":3.03},{"d":"2015-09-28","e":3.32},{"d":"2015-12-28","e":3.03},
      {"d":"2016-02-18","e":4.12},{"d":"2016-05-01","e":3.32},{"d":"2016-07-02","e":4.12},{"d":"2016-09-01","e":2.6},{"d":"2017-01-04","e":2.74},{"d":"2017-05-08","e":2.6},{"d":"2017-09-10","e":2.45},{"d":"2017-12-10","e":2.09},
      {"d":"2018-02-28","e":3.6},{"d":"2018-05-12","e":2.88},{"d":"2018-08-12","e":2.16},{"d":"2018-11-15","e":3.03},{"d":"2019-02-14","e":2.74},{"d":"2019-05-18","e":2.3},{"d":"2019-08-18","e":3.17},{"d":"2019-10-20","e":2.6},{"d":"2019-12-27","e":2.88}
    ],
    "wD2": [
      {"d":"2000-01-21","a":80,"b":20,"c":0},{"d":"2000-04-02","a":92,"b":8,"c":0},{"d":"2000-05-27","a":85,"b":15,"c":0},{"d":"2000-08-08","a":78,"b":22,"c":0},{"d":"2000-10-20","a":66,"b":34,"c":0},{"d":"2001-01-01","a":70,"b":30,"c":0},{"d":"2001-04-20","a":88,"b":12,"c":0},{"d":"2001-07-02","a":75,"b":25,"c":0},{"d":"2001-09-13","a":72,"b":28,"c":0},{"d":"2001-11-25","a":95,"b":5,"c":0},
      {"d":"2002-02-06","a":82,"b":18,"c":0},{"d":"2002-05-27","a":78,"b":22,"c":0},{"d":"2002-09-13","a":85,"b":15,"c":0},{"d":"2003-01-01","a":82,"b":18,"c":0},{"d":"2003-04-20","a":88,"b":12,"c":0},{"d":"2003-08-08","a":80,"b":20,"c":0},{"d":"2003-10-20","a":62,"b":38,"c":0},
      {"d":"2004-01-01","a":60,"b":40,"c":0},{"d":"2004-03-14","a":55,"b":45,"c":0},{"d":"2004-07-02","a":62,"b":38,"c":0},{"d":"2004-10-20","a":70,"b":30,"c":0},{"d":"2005-02-06","a":65,"b":35,"c":0},{"d":"2005-07-02","a":68,"b":32,"c":0},{"d":"2005-10-20","a":58,"b":42,"c":0},
      {"d":"2006-01-01","a":65,"b":35,"c":0},{"d":"2006-03-14","a":60,"b":40,"c":0},{"d":"2006-07-02","a":80,"b":20,"c":0},{"d":"2006-10-20","a":72,"b":28,"c":0},{"d":"2007-01-01","a":68,"b":32,"c":0},{"d":"2007-04-20","a":62,"b":38,"c":0},{"d":"2007-08-08","a":88,"b":12,"c":0},{"d":"2007-11-25","a":80,"b":20,"c":0},
      {"d":"2008-03-14","a":75,"b":25,"c":0},{"d":"2008-07-02","a":82,"b":18,"c":0},{"d":"2008-09-13","a":65,"b":35,"c":0},{"d":"2008-10-20","a":100,"b":0,"c":0},{"d":"2008-11-25","a":100,"b":0,"c":0},{"d":"2008-12-14","a":95,"b":0,"c":5},{"d":"2009-03-01","a":93,"b":2,"c":5},{"d":"2009-04-08","a":68,"b":32,"c":0},{"d":"2009-06-14","a":62,"b":38,"c":0},{"d":"2009-09-13","a":75,"b":25,"c":0},{"d":"2009-11-25","a":90,"b":10,"c":0},
      {"d":"2010-03-14","a":80,"b":20,"c":0},{"d":"2010-05-27","a":95,"b":5,"c":0},{"d":"2010-09-13","a":75,"b":25,"c":0},{"d":"2010-11-25","a":68,"b":32,"c":0},{"d":"2011-03-14","a":68,"b":32,"c":0},{"d":"2011-07-02","a":80,"b":20,"c":0},{"d":"2011-10-20","a":95,"b":5,"c":0},
      {"d":"2012-01-01","a":85,"b":15,"c":0},{"d":"2012-04-20","a":85,"b":15,"c":0},{"d":"2012-07-02","a":95,"b":5,"c":0},{"d":"2012-10-20","a":82,"b":18,"c":0},{"d":"2013-02-06","a":75,"b":25,"c":0},{"d":"2013-05-27","a":65,"b":35,"c":0},{"d":"2013-09-13","a":80,"b":20,"c":0},
      {"d":"2014-01-01","a":82,"b":18,"c":0},{"d":"2014-04-20","a":75,"b":25,"c":0},{"d":"2014-08-08","a":80,"b":20,"c":0},{"d":"2014-11-25","a":72,"b":28,"c":0},{"d":"2015-03-14","a":68,"b":32,"c":0},{"d":"2015-05-27","a":62,"b":38,"c":0},{"d":"2015-09-13","a":88,"b":12,"c":0},
      {"d":"2016-01-01","a":78,"b":22,"c":0},{"d":"2016-04-20","a":68,"b":32,"c":0},{"d":"2016-08-08","a":62,"b":38,"c":0},{"d":"2016-10-20","a":55,"b":45,"c":0},{"d":"2017-02-06","a":62,"b":38,"c":0},{"d":"2017-05-27","a":65,"b":35,"c":0},{"d":"2017-08-08","a":58,"b":42,"c":0},{"d":"2017-11-25","a":70,"b":30,"c":0},
      {"d":"2018-02-06","a":85,"b":15,"c":0},{"d":"2018-05-27","a":75,"b":25,"c":0},{"d":"2018-08-08","a":70,"b":30,"c":0},{"d":"2018-10-20","a":82,"b":18,"c":0},{"d":"2019-02-06","a":78,"b":22,"c":0},{"d":"2019-05-27","a":68,"b":32,"c":0},{"d":"2019-09-13","a":72,"b":28,"c":0},{"d":"2019-12-27","a":65,"b":35,"c":0}
    ],
    "eD2": [
      {"d":"2000-01-21","e":2.49},{"d":"2000-03-14","e":2.06},{"d":"2000-05-27","e":1.84},{"d":"2000-07-20","e":2.2},{"d":"2000-09-25","e":2.49},{"d":"2000-11-07","e":1.77},{"d":"2001-02-24","e":2.35},{"d":"2001-05-27","e":1.77},{"d":"2001-08-28","e":1.91},{"d":"2001-12-01","e":2.2},
      {"d":"2002-03-05","e":1.62},{"d":"2002-06-04","e":1.48},{"d":"2002-08-08","e":2.13},{"d":"2002-11-07","e":1.77},{"d":"2003-03-08","e":1.77},{"d":"2003-08-08","e":2.2},{"d":"2003-10-12","e":1.62},
      {"d":"2004-01-12","e":1.91},{"d":"2004-04-12","e":2.2},{"d":"2004-07-16","e":1.77},{"d":"2004-10-16","e":1.48},{"d":"2005-01-19","e":1.91},{"d":"2005-05-20","e":1.77},{"d":"2005-09-20","e":1.91},{"d":"2005-12-25","e":2.06},
      {"d":"2006-03-25","e":1.62},{"d":"2006-06-25","e":2.28},{"d":"2006-09-25","e":2.06},{"d":"2006-12-28","e":1.62},{"d":"2007-04-02","e":1.77},{"d":"2007-07-02","e":1.48},{"d":"2007-10-02","e":1.91},
      {"d":"2008-02-04","e":1.91},{"d":"2008-06-08","e":2.06},{"d":"2008-08-08","e":1.7},{"d":"2008-09-20","e":2.93},{"d":"2008-10-08","e":4.09},{"d":"2008-11-07","e":6.62},{"d":"2008-12-08","e":6.4},{"d":"2009-01-08","e":5.1},{"d":"2009-02-10","e":6.14},{"d":"2009-03-28","e":4.96},{"d":"2009-06-14","e":3.51},{"d":"2009-08-12","e":2.86},{"d":"2009-10-12","e":2.35},
      {"d":"2010-01-15","e":2.06},{"d":"2010-04-15","e":1.84},{"d":"2010-05-28","e":3.14},{"d":"2010-08-18","e":2.2},{"d":"2010-12-20","e":2.06},{"d":"2011-04-22","e":1.91},{"d":"2011-08-22","e":1.84},{"d":"2011-11-25","e":2.35},
      {"d":"2012-02-25","e":2.2},{"d":"2012-05-30","e":1.7},{"d":"2012-07-10","e":2.06},{"d":"2012-09-28","e":1.62},{"d":"2013-03-03","e":1.62},{"d":"2013-07-05","e":2.06},{"d":"2013-11-05","e":1.77},
      {"d":"2014-03-08","e":1.77},{"d":"2014-07-08","e":1.41},{"d":"2014-11-10","e":1.7},{"d":"2015-03-14","e":2.13},{"d":"2015-07-16","e":2.06},{"d":"2015-10-16","e":2.28},
      {"d":"2016-02-18","e":2.28},{"d":"2016-05-18","e":1.99},{"d":"2016-07-20","e":2.86},{"d":"2016-09-20","e":2.06},{"d":"2016-11-20","e":2.35},{"d":"2017-02-20","e":1.77},{"d":"2017-06-25","e":1.7},{"d":"2017-10-25","e":1.7},{"d":"2017-12-28","e":1.62},
      {"d":"2018-02-28","e":2.42},{"d":"2018-05-30","e":1.91},{"d":"2018-07-30","e":1.55},{"d":"2018-12-02","e":1.84},{"d":"2019-04-05","e":1.77},{"d":"2019-08-08","e":1.91},{"d":"2019-11-07","e":2.2},{"d":"2019-12-27","e":1.84}
    ]
  },
  "spacing": 8,
  "resolve": {"scale": {"color": "independent", "x": "independent", "y": "independent"}, "legend": {"color": "independent"}},
  "hconcat": [
    {
      "spacing": 2,
      "resolve": {"scale": {"color": "independent", "x": "independent", "y": "independent"}, "legend": {"color": "independent"}},
      "vconcat": [
        {
          "width": 393, "height": 1,
          "view": {"stroke": null},
          "title": {"text": "Panel A: Europe", "subtitle": "Composition of the non-US investors’ two-asset portfolio", "subtitlePadding": 6, "offset": -4},
          "data": {"values": [{}]},
          "mark": {"type": "rule", "opacity": 0},
          "encoding": {}
        },
        {
          "width": 393, "height": 254,
          "layer": [
            {
              "data": {"name": "wA1"},
              "transform": [{"fold": ["a", "b"], "as": ["k", "v"]}],
              "mark": {"type": "area", "clip": true},
              "encoding": {
                "x": {"field": "d", "type": "temporal", "scale": {"type": "utc", "nice": false, "domain": [{"year": 2000, "month": 1, "date": 21, "utc": true}, {"year": 2019, "month": 12, "date": 27, "utc": true}]}, "axis": {"title": "Date", "format": "%Y", "values": [{"year": 2002, "utc": true}, {"year": 2004, "utc": true}, {"year": 2006, "utc": true}, {"year": 2008, "utc": true}, {"year": 2010, "utc": true}, {"year": 2012, "utc": true}, {"year": 2014, "utc": true}, {"year": 2016, "utc": true}, {"year": 2018, "utc": true}]}},
                "y": {"field": "v", "type": "quantitative", "stack": "zero", "scale": {"domain": [0, 100], "nice": false}, "axis": {"title": "Weight (%)", "values": [0, 20, 40, 60, 80, 100]}},
                "order": {"field": "k", "sort": "ascending"},
                "color": {"field": "k", "type": "nominal", "scale": {"domain": ["a", "b", "e"], "range": ["#fde8d3", "#bfc5d9", "#1f2c8c"]},
                  "legend": {"title": null, "orient": "top-right", "labelExpr": "datum.label === 'a' ? 'Gold (in euros)' : datum.label === 'b' ? 'EUROSTOXX 50' : 'ES (in absolute terms)'",
                    "encode": {"symbols": {"update": {"shape": {"signal": "datum.value === 'e' ? 'stroke' : 'square'"}, "stroke": {"signal": "datum.value === 'e' ? '#1f2c8c' : 'transparent'"}, "strokeWidth": {"signal": "datum.value === 'e' ? 1.3 : 0"}}}}}}
              }
            },
            {
              "data": {"name": "eA1"},
              "mark": {"type": "line", "strokeWidth": 1, "clip": true},
              "encoding": {
                "x": {"field": "d", "type": "temporal"},
                "y": {"field": "e", "type": "quantitative", "scale": {"domain": [1, 8], "nice": false, "zero": false}, "axis": {"title": "Losses (%)", "orient": "right", "values": [1, 2, 3, 4, 5, 6, 7, 8]}},
                "color": {"datum": "e", "type": "nominal"}
              }
            }
          ],
          "resolve": {"scale": {"y": "independent"}}
        },
        {
          "width": 393, "height": 254,
          "title": {"text": "Panel B: Japan", "subtitle": "Composition of the non-US investors’ two-asset portfolio"},
          "layer": [
            {
              "data": {"name": "wB1"},
              "transform": [{"fold": ["a", "b"], "as": ["k", "v"]}],
              "mark": {"type": "area", "clip": true},
              "encoding": {
                "x": {"field": "d", "type": "temporal", "scale": {"type": "utc", "nice": false, "domain": [{"year": 2000, "month": 1, "date": 21, "utc": true}, {"year": 2019, "month": 12, "date": 27, "utc": true}]}, "axis": {"title": "Date", "format": "%Y", "values": [{"year": 2002, "utc": true}, {"year": 2004, "utc": true}, {"year": 2006, "utc": true}, {"year": 2008, "utc": true}, {"year": 2010, "utc": true}, {"year": 2012, "utc": true}, {"year": 2014, "utc": true}, {"year": 2016, "utc": true}, {"year": 2018, "utc": true}]}},
                "y": {"field": "v", "type": "quantitative", "stack": "zero", "scale": {"domain": [0, 100], "nice": false}, "axis": {"title": "Weight (%)", "values": [0, 20, 40, 60, 80, 100]}},
                "order": {"field": "k", "sort": "ascending"},
                "color": {"field": "k", "type": "nominal", "scale": {"domain": ["a", "b", "e"], "range": ["#fde8d3", "#bfc5d9", "#1f2c8c"]},
                  "legend": {"title": null, "orient": "top-right", "labelExpr": "datum.label === 'a' ? 'Gold (in yens)' : datum.label === 'b' ? 'Nikkei 225' : 'ES (in absolute terms)'",
                    "encode": {"symbols": {"update": {"shape": {"signal": "datum.value === 'e' ? 'stroke' : 'square'"}, "stroke": {"signal": "datum.value === 'e' ? '#1f2c8c' : 'transparent'"}, "strokeWidth": {"signal": "datum.value === 'e' ? 1.3 : 0"}}}}}}
              }
            },
            {
              "data": {"name": "eB1"},
              "mark": {"type": "line", "strokeWidth": 1, "clip": true},
              "encoding": {
                "x": {"field": "d", "type": "temporal"},
                "y": {"field": "e", "type": "quantitative", "scale": {"domain": [1, 10], "nice": false, "zero": false}, "axis": {"title": "Losses (%)", "orient": "right", "values": [1, 2, 3, 4, 5, 6, 7, 8, 9, 10]}},
                "color": {"datum": "e", "type": "nominal"}
              }
            }
          ],
          "resolve": {"scale": {"y": "independent"}}
        },
        {
          "width": 393, "height": 254,
          "title": {"text": "Panel C: Brazil", "subtitle": "Composition of the non-US investors’ two-asset portfolio"},
          "layer": [
            {
              "data": {"name": "wC1"},
              "transform": [{"fold": ["a", "b"], "as": ["k", "v"]}],
              "mark": {"type": "area", "clip": true},
              "encoding": {
                "x": {"field": "d", "type": "temporal", "scale": {"type": "utc", "nice": false, "domain": [{"year": 2000, "month": 1, "date": 21, "utc": true}, {"year": 2019, "month": 12, "date": 27, "utc": true}]}, "axis": {"title": "Date", "format": "%Y", "values": [{"year": 2002, "utc": true}, {"year": 2004, "utc": true}, {"year": 2006, "utc": true}, {"year": 2008, "utc": true}, {"year": 2010, "utc": true}, {"year": 2012, "utc": true}, {"year": 2014, "utc": true}, {"year": 2016, "utc": true}, {"year": 2018, "utc": true}]}},
                "y": {"field": "v", "type": "quantitative", "stack": "zero", "scale": {"domain": [0, 100], "nice": false}, "axis": {"title": "Weight (%)", "values": [0, 20, 40, 60, 80, 100]}},
                "order": {"field": "k", "sort": "ascending"},
                "color": {"field": "k", "type": "nominal", "scale": {"domain": ["a", "b", "e"], "range": ["#fde8d3", "#bfc5d9", "#1f2c8c"]},
                  "legend": {"title": null, "orient": "top-right", "labelExpr": "datum.label === 'a' ? 'Gold (in Brazilian reals)' : datum.label === 'b' ? 'BOVESPA' : 'ES (in absolute terms)'",
                    "encode": {"symbols": {"update": {"shape": {"signal": "datum.value === 'e' ? 'stroke' : 'square'"}, "stroke": {"signal": "datum.value === 'e' ? '#1f2c8c' : 'transparent'"}, "strokeWidth": {"signal": "datum.value === 'e' ? 1.3 : 0"}}}}}}
              }
            },
            {
              "data": {"name": "eC1"},
              "mark": {"type": "line", "strokeWidth": 1, "clip": true},
              "encoding": {
                "x": {"field": "d", "type": "temporal"},
                "y": {"field": "e", "type": "quantitative", "scale": {"domain": [1, 9], "nice": false, "zero": false}, "axis": {"title": "Losses (%)", "orient": "right", "values": [1, 2, 3, 4, 5, 6, 7, 8, 9]}},
                "color": {"datum": "e", "type": "nominal"}
              }
            }
          ],
          "resolve": {"scale": {"y": "independent"}}
        },
        {
          "width": 393, "height": 254,
          "title": {"text": "Panel D: UK", "subtitle": "Composition of the non-US investors’ two-asset portfolio"},
          "layer": [
            {
              "data": {"name": "wD1"},
              "transform": [{"fold": ["a", "b"], "as": ["k", "v"]}],
              "mark": {"type": "area", "clip": true},
              "encoding": {
                "x": {"field": "d", "type": "temporal", "scale": {"type": "utc", "nice": false, "domain": [{"year": 2000, "month": 1, "date": 21, "utc": true}, {"year": 2019, "month": 12, "date": 27, "utc": true}]}, "axis": {"title": "Date", "format": "%Y", "values": [{"year": 2002, "utc": true}, {"year": 2004, "utc": true}, {"year": 2006, "utc": true}, {"year": 2008, "utc": true}, {"year": 2010, "utc": true}, {"year": 2012, "utc": true}, {"year": 2014, "utc": true}, {"year": 2016, "utc": true}, {"year": 2018, "utc": true}]}},
                "y": {"field": "v", "type": "quantitative", "stack": "zero", "scale": {"domain": [0, 100], "nice": false}, "axis": {"title": "Weight (%)", "values": [0, 20, 40, 60, 80, 100]}},
                "order": {"field": "k", "sort": "ascending"},
                "color": {"field": "k", "type": "nominal", "scale": {"domain": ["a", "b", "e"], "range": ["#fde8d3", "#bfc5d9", "#1f2c8c"]},
                  "legend": {"title": null, "orient": "top-right", "labelExpr": "datum.label === 'a' ? 'Gold (in pounds)' : datum.label === 'b' ? 'FTSE 100' : 'ES (in absolute terms)'",
                    "encode": {"symbols": {"update": {"shape": {"signal": "datum.value === 'e' ? 'stroke' : 'square'"}, "stroke": {"signal": "datum.value === 'e' ? '#1f2c8c' : 'transparent'"}, "strokeWidth": {"signal": "datum.value === 'e' ? 1.3 : 0"}}}}}}
              }
            },
            {
              "data": {"name": "eD1"},
              "mark": {"type": "line", "strokeWidth": 1, "clip": true},
              "encoding": {
                "x": {"field": "d", "type": "temporal"},
                "y": {"field": "e", "type": "quantitative", "scale": {"domain": [1, 12], "nice": false, "zero": false}, "axis": {"title": "Losses (%)", "orient": "right", "values": [2, 4, 6, 8, 10, 12]}},
                "color": {"datum": "e", "type": "nominal"}
              }
            }
          ],
          "resolve": {"scale": {"y": "independent"}}
        }
      ]
    },
    {
      "spacing": 34,
      "resolve": {"scale": {"color": "independent", "x": "independent", "y": "independent"}, "legend": {"color": "independent"}},
      "vconcat": [
        {
          "width": 393, "height": 254,
          "title": {"text": "Composition of the non-US investors’ three-asset portfolio", "fontSize": 12.5, "fontWeight": "normal", "color": "#111111", "offset": 1},
          "layer": [
            {
              "data": {"name": "wA2"},
              "transform": [{"fold": ["a", "b", "c"], "as": ["k", "v"]}],
              "mark": {"type": "area", "clip": true},
              "encoding": {
                "x": {"field": "d", "type": "temporal", "scale": {"type": "utc", "nice": false, "domain": [{"year": 2000, "month": 1, "date": 21, "utc": true}, {"year": 2019, "month": 12, "date": 27, "utc": true}]}, "axis": {"title": "Date", "format": "%Y", "values": [{"year": 2002, "utc": true}, {"year": 2004, "utc": true}, {"year": 2006, "utc": true}, {"year": 2008, "utc": true}, {"year": 2010, "utc": true}, {"year": 2012, "utc": true}, {"year": 2014, "utc": true}, {"year": 2016, "utc": true}, {"year": 2018, "utc": true}]}},
                "y": {"field": "v", "type": "quantitative", "stack": "zero", "scale": {"domain": [0, 100], "nice": false}, "axis": {"title": "Weight (%)", "values": [0, 20, 40, 60, 80, 100]}},
                "order": {"field": "k", "sort": "ascending"},
                "color": {"field": "k", "type": "nominal", "scale": {"domain": ["a", "b", "c", "e"], "range": ["#d9f4fc", "#bfc5d9", "#fde8d3", "#1f2c8c"]},
                  "legend": {"title": null, "orient": "none", "legendX": 266, "legendY": 118, "labelExpr": "datum.label === 'a' ? 'EUR/USD' : datum.label === 'b' ? 'EUROSTOXX 50' : datum.label === 'c' ? 'Gold' : 'ES (in absolute terms)'",
                    "encode": {"symbols": {"update": {"shape": {"signal": "datum.value === 'e' ? 'stroke' : 'square'"}, "stroke": {"signal": "datum.value === 'e' ? '#1f2c8c' : 'transparent'"}, "strokeWidth": {"signal": "datum.value === 'e' ? 1.3 : 0"}}}}}}
              }
            },
            {
              "data": {"name": "eA2"},
              "mark": {"type": "line", "strokeWidth": 1, "clip": true},
              "encoding": {
                "x": {"field": "d", "type": "temporal"},
                "y": {"field": "e", "type": "quantitative", "scale": {"domain": [1, 8], "nice": false, "zero": false}, "axis": {"title": "Losses (%)", "orient": "right", "values": [1, 2, 3, 4, 5, 6, 7, 8]}},
                "color": {"datum": "e", "type": "nominal"}
              }
            }
          ],
          "resolve": {"scale": {"y": "independent"}}
        },
        {
          "width": 393, "height": 254,
          "title": {"text": "Composition of the non-US investors’ three-asset portfolio", "fontSize": 12.5, "fontWeight": "normal", "color": "#111111", "offset": 1},
          "layer": [
            {
              "data": {"name": "wB2"},
              "transform": [{"fold": ["a", "b", "c"], "as": ["k", "v"]}],
              "mark": {"type": "area", "clip": true},
              "encoding": {
                "x": {"field": "d", "type": "temporal", "scale": {"type": "utc", "nice": false, "domain": [{"year": 2000, "month": 1, "date": 21, "utc": true}, {"year": 2019, "month": 12, "date": 27, "utc": true}]}, "axis": {"title": "Date", "format": "%Y", "values": [{"year": 2002, "utc": true}, {"year": 2004, "utc": true}, {"year": 2006, "utc": true}, {"year": 2008, "utc": true}, {"year": 2010, "utc": true}, {"year": 2012, "utc": true}, {"year": 2014, "utc": true}, {"year": 2016, "utc": true}, {"year": 2018, "utc": true}]}},
                "y": {"field": "v", "type": "quantitative", "stack": "zero", "scale": {"domain": [0, 100], "nice": false}, "axis": {"title": "Weight (%)", "values": [0, 20, 40, 60, 80, 100]}},
                "order": {"field": "k", "sort": "ascending"},
                "color": {"field": "k", "type": "nominal", "scale": {"domain": ["a", "b", "c", "e"], "range": ["#d9f4fc", "#bfc5d9", "#fde8d3", "#1f2c8c"]},
                  "legend": {"title": null, "orient": "none", "legendX": 263, "legendY": 105, "labelExpr": "datum.label === 'a' ? 'JPY/USD' : datum.label === 'b' ? 'Nikkei 225' : datum.label === 'c' ? 'Gold' : 'ES (in absolute terms)'",
                    "encode": {"symbols": {"update": {"shape": {"signal": "datum.value === 'e' ? 'stroke' : 'square'"}, "stroke": {"signal": "datum.value === 'e' ? '#1f2c8c' : 'transparent'"}, "strokeWidth": {"signal": "datum.value === 'e' ? 1.3 : 0"}}}}}}
              }
            },
            {
              "data": {"name": "eB2"},
              "mark": {"type": "line", "strokeWidth": 1, "clip": true},
              "encoding": {
                "x": {"field": "d", "type": "temporal"},
                "y": {"field": "e", "type": "quantitative", "scale": {"domain": [1, 10], "nice": false, "zero": false}, "axis": {"title": "Losses (%)", "orient": "right", "values": [1, 2, 3, 4, 5, 6, 7, 8, 9, 10]}},
                "color": {"datum": "e", "type": "nominal"}
              }
            }
          ],
          "resolve": {"scale": {"y": "independent"}}
        },
        {
          "width": 393, "height": 254,
          "title": {"text": "Composition of the non-US investors’ three-asset portfolio", "fontSize": 12.5, "fontWeight": "normal", "color": "#111111", "offset": 1},
          "layer": [
            {
              "data": {"name": "wC2"},
              "transform": [{"fold": ["a", "b", "c"], "as": ["k", "v"]}],
              "mark": {"type": "area", "clip": true},
              "encoding": {
                "x": {"field": "d", "type": "temporal", "scale": {"type": "utc", "nice": false, "domain": [{"year": 2000, "month": 1, "date": 21, "utc": true}, {"year": 2019, "month": 12, "date": 27, "utc": true}]}, "axis": {"title": "Date", "format": "%Y", "values": [{"year": 2002, "utc": true}, {"year": 2004, "utc": true}, {"year": 2006, "utc": true}, {"year": 2008, "utc": true}, {"year": 2010, "utc": true}, {"year": 2012, "utc": true}, {"year": 2014, "utc": true}, {"year": 2016, "utc": true}, {"year": 2018, "utc": true}]}},
                "y": {"field": "v", "type": "quantitative", "stack": "zero", "scale": {"domain": [0, 100], "nice": false}, "axis": {"title": "Weight (%)", "values": [0, 20, 40, 60, 80, 100]}},
                "order": {"field": "k", "sort": "ascending"},
                "color": {"field": "k", "type": "nominal", "scale": {"domain": ["a", "b", "c", "e"], "range": ["#d9f4fc", "#bfc5d9", "#fde8d3", "#1f2c8c"]},
                  "legend": {"title": null, "orient": "none", "legendX": 264, "legendY": 126, "labelExpr": "datum.label === 'a' ? 'BRL/USD' : datum.label === 'b' ? 'BOVESPA' : datum.label === 'c' ? 'Gold' : 'ES (in absolute terms)'",
                    "encode": {"symbols": {"update": {"shape": {"signal": "datum.value === 'e' ? 'stroke' : 'square'"}, "stroke": {"signal": "datum.value === 'e' ? '#1f2c8c' : 'transparent'"}, "strokeWidth": {"signal": "datum.value === 'e' ? 1.3 : 0"}}}}}}
              }
            },
            {
              "data": {"name": "eC2"},
              "mark": {"type": "line", "strokeWidth": 1, "clip": true},
              "encoding": {
                "x": {"field": "d", "type": "temporal"},
                "y": {"field": "e", "type": "quantitative", "scale": {"domain": [1, 9], "nice": false, "zero": false}, "axis": {"title": "Losses (%)", "orient": "right", "values": [1, 2, 3, 4, 5, 6, 7, 8, 9]}},
                "color": {"datum": "e", "type": "nominal"}
              }
            }
          ],
          "resolve": {"scale": {"y": "independent"}}
        },
        {
          "width": 393, "height": 254,
          "title": {"text": "Composition of the non-US investors’ three-asset portfolio", "fontSize": 12.5, "fontWeight": "normal", "color": "#111111", "offset": 1},
          "layer": [
            {
              "data": {"name": "wD2"},
              "transform": [{"fold": ["a", "b", "c"], "as": ["k", "v"]}],
              "mark": {"type": "area", "clip": true},
              "encoding": {
                "x": {"field": "d", "type": "temporal", "scale": {"type": "utc", "nice": false, "domain": [{"year": 2000, "month": 1, "date": 21, "utc": true}, {"year": 2019, "month": 12, "date": 27, "utc": true}]}, "axis": {"title": "Date", "format": "%Y", "values": [{"year": 2002, "utc": true}, {"year": 2004, "utc": true}, {"year": 2006, "utc": true}, {"year": 2008, "utc": true}, {"year": 2010, "utc": true}, {"year": 2012, "utc": true}, {"year": 2014, "utc": true}, {"year": 2016, "utc": true}, {"year": 2018, "utc": true}]}},
                "y": {"field": "v", "type": "quantitative", "stack": "zero", "scale": {"domain": [0, 100], "nice": false}, "axis": {"title": "Weight (%)", "values": [0, 20, 40, 60, 80, 100]}},
                "order": {"field": "k", "sort": "ascending"},
                "color": {"field": "k", "type": "nominal", "scale": {"domain": ["a", "b", "c", "e"], "range": ["#d9f4fc", "#bfc5d9", "#fde8d3", "#1f2c8c"]},
                  "legend": {"title": null, "orient": "none", "legendX": 263, "legendY": 124, "labelExpr": "datum.label === 'a' ? 'GBP/USD' : datum.label === 'b' ? 'FTSE 100' : datum.label === 'c' ? 'Gold' : 'ES (in absolute terms)'",
                    "encode": {"symbols": {"update": {"shape": {"signal": "datum.value === 'e' ? 'stroke' : 'square'"}, "stroke": {"signal": "datum.value === 'e' ? '#1f2c8c' : 'transparent'"}, "strokeWidth": {"signal": "datum.value === 'e' ? 1.3 : 0"}}}}}}
              }
            },
            {
              "data": {"name": "eD2"},
              "mark": {"type": "line", "strokeWidth": 1, "clip": true},
              "encoding": {
                "x": {"field": "d", "type": "temporal"},
                "y": {"field": "e", "type": "quantitative", "scale": {"domain": [1, 12], "nice": false, "zero": false}, "axis": {"title": "Losses (%)", "orient": "right", "values": [2, 4, 6, 8, 10, 12]}},
                "color": {"datum": "e", "type": "nominal"}
              }
            }
          ],
          "resolve": {"scale": {"y": "independent"}}
        }
      ]
    }
  ]
}
